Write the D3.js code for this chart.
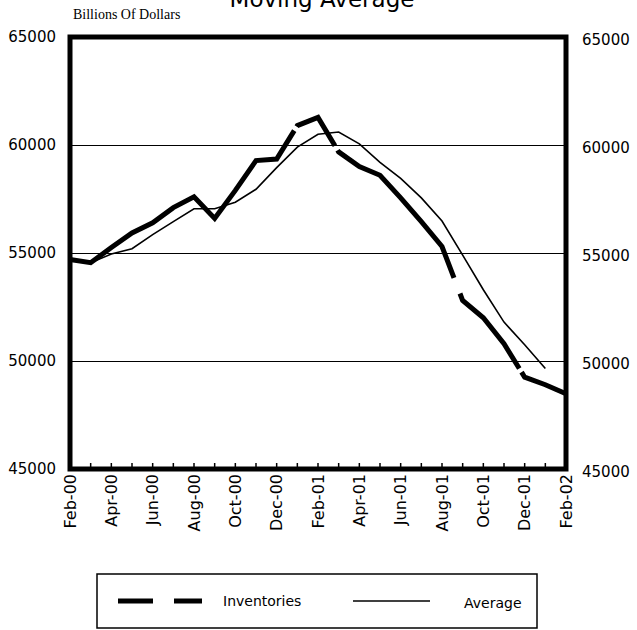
<!DOCTYPE html>
<html>
<head>
<meta charset="utf-8">
<script src="https://cdn.jsdelivr.net/npm/d3@7"></script>
<style>
  body { margin: 0; background: #fff; }
</style>
</head>
<body>
<script>
// chart data
var months = ["Feb-00", "Mar-00", "Apr-00", "May-00", "Jun-00", "Jul-00", "Aug-00", "Sep-00",
    "Oct-00", "Nov-00", "Dec-00", "Jan-01", "Feb-01", "Mar-01", "Apr-01", "May-01", "Jun-01",
    "Jul-01", "Aug-01", "Sep-01", "Oct-01", "Nov-01", "Dec-01", "Jan-02", "Feb-02"];
var inventories = [54700, 54550, 55250, 55930, 56400, 57100, 57600, 56600, 57900, 59280, 59350,
    60900, 61280, 59680, 59000, 58600, 57550, 56450, 55300, 52800, 52000, 50800, 49250, 48900, 48480];
var average = [54700, 54550, 54950, 55200, 55850, 56450, 57050, 57050, 57350, 57950, 58950,
    59900, 60500, 60600, 60050, 59200, 58450, 57550, 56480, 54900, 53300, 51800, 50750, 49650, null];
var yTicks = [45000, 50000, 55000, 60000, 65000];
var gridValues = [50000, 55000, 60000];
// where the long-dash line breaks (in month positions)
var gaps = [[10.85, 10.97], [12.82, 12.95], [18.58, 18.87], [21.74, 21.85]];

var width = 637, height = 630;
var plotLeft = 70, plotRight = 566, plotTop = 37, plotBottom = 469;

var svg = d3.select("body").append("svg")
    .attr("width", width)
    .attr("height", height);

var x = d3.scaleLinear().domain([0, months.length - 1]).range([plotLeft, plotRight]);
var y = d3.scaleLinear().domain([45000, 65000]).range([plotBottom, plotTop]);

// title, cut off at the top edge like the scan
svg.append("text")
    .attr("x", 322)
    .attr("y", 7)
    .attr("text-anchor", "middle")
    .style("font-family", "DejaVu Sans")
    .style("font-size", "23px")
    .text("Moving Average");

svg.append("text")
    .attr("x", 73)
    .attr("y", 19)
    .style("font-family", "Liberation Serif")
    .style("font-size", "14px")
    .text("Billions Of Dollars");

// gridlines
svg.selectAll(".grid")
    .data(gridValues)
    .enter().append("line")
    .attr("x1", plotLeft)
    .attr("x2", plotRight)
    .attr("y1", function (d) { return Math.round(y(d)) + 0.5; })
    .attr("y2", function (d) { return Math.round(y(d)) + 0.5; })
    .attr("stroke", "#000")
    .attr("stroke-width", 1);

// y labels both sides
svg.selectAll(".yl")
    .data(yTicks)
    .enter().append("text")
    .attr("x", 56)
    .attr("y", function (d) { return y(d); })
    .attr("dy", "0.35em")
    .attr("text-anchor", "end")
    .style("font-family", "DejaVu Sans")
    .style("font-size", "15px")
    .text(function (d) { return d; });

svg.selectAll(".yr")
    .data(yTicks)
    .enter().append("text")
    .attr("x", 582)
    .attr("y", function (d) { return y(d) + 3; })
    .attr("dy", "0.35em")
    .style("font-family", "DejaVu Sans")
    .style("font-size", "15px")
    .text(function (d) { return d; });

// small month ticks on the bottom axis
svg.selectAll(".tick")
    .data(months.slice(1, -1))
    .enter().append("line")
    .attr("x1", function (d, i) { return x(i + 1); })
    .attr("x2", function (d, i) { return x(i + 1); })
    .attr("y1", plotBottom)
    .attr("y2", plotBottom - 6)
    .attr("stroke", "#000")
    .attr("stroke-width", 1.5);

// month labels, every other one
svg.selectAll(".xl")
    .data(months)
    .enter().append("text")
    .filter(function (d, i) { return i % 2 == 0; })
    .attr("transform", function (d) {
        return "translate(" + x(months.indexOf(d)) + "," + (plotBottom + 5) + ") rotate(-90)";
    })
    .attr("dy", "0.35em")
    .attr("text-anchor", "end")
    .style("font-family", "DejaVu Sans")
    .style("font-size", "16px")
    .text(function (d) { return d; });

var line = d3.line()
    .defined(function (d) { return d != null; })
    .x(function (d, i) { return x(i); })
    .y(function (d) { return y(d); });

svg.append("path")
    .datum(average)
    .attr("d", line)
    .attr("fill", "none")
    .attr("stroke", "#000")
    .attr("stroke-width", 1.6);

// build a dash array so the breaks land where they are in the original
var cum = [0];
for (var i = 1; i < inventories.length; i++) {
    var dx = x(i) - x(i - 1), dy = y(inventories[i]) - y(inventories[i - 1]);
    cum.push(cum[i - 1] + Math.sqrt(dx * dx + dy * dy));
}
function lenAt(t) {
    var k = Math.floor(t);
    return cum[k] + (t - k) * (cum[k + 1] - cum[k]);
}
var dash = [], pos = 0;
gaps.forEach(function (g) {
    var a = lenAt(g[0]), b = lenAt(g[1]);
    dash.push(a - pos, b - a);
    pos = b;
});
dash.push(cum[cum.length - 1] - pos + 10, 0);

svg.append("path")
    .datum(inventories)
    .attr("d", line)
    .attr("fill", "none")
    .attr("stroke", "#000")
    .attr("stroke-width", 5)
    .attr("stroke-linejoin", "miter")
    .attr("stroke-dasharray", dash.join(","));

// plot frame
svg.append("rect")
    .attr("x", plotLeft)
    .attr("y", plotTop)
    .attr("width", plotRight - plotLeft)
    .attr("height", plotBottom - plotTop)
    .attr("fill", "none")
    .attr("stroke", "#000")
    .attr("stroke-width", 5);

// legend
svg.append("rect")
    .attr("x", 97)
    .attr("y", 574)
    .attr("width", 440)
    .attr("height", 54)
    .attr("fill", "none")
    .attr("stroke", "#000")
    .attr("stroke-width", 1.5);

svg.append("line")
    .attr("x1", 118)
    .attr("x2", 202)
    .attr("y1", 601)
    .attr("y2", 601)
    .attr("stroke", "#000")
    .attr("stroke-width", 5)
    .attr("stroke-dasharray", "35,21");

svg.append("text")
    .attr("x", 223)
    .attr("y", 606)
    .style("font-family", "DejaVu Sans")
    .style("font-size", "14px")
    .text("Inventories");

svg.append("line")
    .attr("x1", 353)
    .attr("x2", 430)
    .attr("y1", 601)
    .attr("y2", 601)
    .attr("stroke", "#000")
    .attr("stroke-width", 1.5);

svg.append("text")
    .attr("x", 464)
    .attr("y", 608)
    .style("font-family", "DejaVu Sans")
    .style("font-size", "14px")
    .text("Average");
</script>
</body>
</html>
